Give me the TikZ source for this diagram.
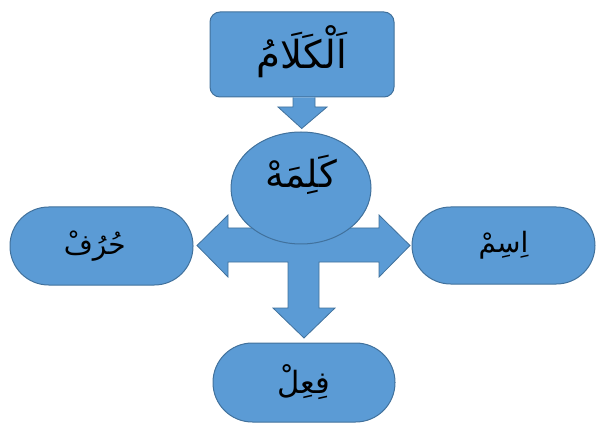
\documentclass[tikz,border=0pt]{standalone}
\usepackage{fontspec}
\usetikzlibrary{shapes.geometric}
\newfontfamily\arabicfont[Script=Arabic]{DejaVu Sans}
\TeXXeTstate=1
\definecolor{boxfill}{HTML}{5B9BD5}
\definecolor{boxline}{HTML}{41719C}
\begin{document}
\begin{tikzpicture}[x=0.75pt,y=-0.75pt,
  shp/.style={fill=boxfill,draw=boxline,line width=0.75pt,inner sep=0pt},
  arr/.style={fill=boxfill,draw=boxline,line width=0.6pt,line join=miter},
  lbl/.style={font=\arabicfont\fontsize{#1}{#1}\selectfont,text=black,inner sep=0pt}]
\useasboundingbox (0,0) rectangle (600,431);
% nodes
\node[shp,rounded corners=7.5pt,minimum width=138pt,minimum height=63.75pt] (kalam) at (302,54.5) {};
\node[shp,rounded corners=29pt,minimum width=137.25pt,minimum height=58.5pt] (harf) at (101.5,246) {};
\node[shp,rounded corners=29pt,minimum width=137.25pt,minimum height=57.75pt] (ism) at (503.5,245.5) {};
\node[shp,rounded corners=29.5pt,minimum width=136.5pt,minimum height=59.25pt] (fil) at (304,382.5) {};
% down arrow from kalam to kalima
\coordinate (t1) at (301.7,128.5);
\draw[arr] (293,97.5) -- (293,107) -- (278,107) -- (t1) -- (327,107) -- (315,107) -- (315,97.5);
% cross arrow
\coordinate (tl) at (197,245.5);
\coordinate (tr) at (410,245.5);
\coordinate (tb) at (304,338);
\draw[arr] (228,228) -- (228,215) -- (tl) -- (228,277) -- (228,262) -- (288,262) -- (288,308) -- (273,308) -- (tb) -- (335,308) -- (319,308) -- (319,262) -- (379,262) -- (379,277) -- (tr) -- (379,215) -- (379,228) -- cycle;
% ellipse on top
\node[shp,ellipse,minimum width=105pt,minimum height=84pt] (kalima) at (301,188) {};
% labels
\node[lbl=29pt] (tkalam) at ([yshift=2pt]kalam.center) {\beginR اَلْكَلَامُ\endR};
\node[lbl=28pt] (tkalima) at ([yshift=10pt]kalima.center) {\beginR كَلِمَهْ\endR};
\node[lbl=21pt] (tharf) at ([xshift=-5pt]harf.center) {\beginR حُرُفْ\endR};
\node[lbl=21pt] (tism) at (ism.center) {\beginR اِسِمْ\endR};
\node[lbl=23pt] (tfil) at (fil.center) {\beginR فِعِلْ\endR};
\end{tikzpicture}
\end{document}
